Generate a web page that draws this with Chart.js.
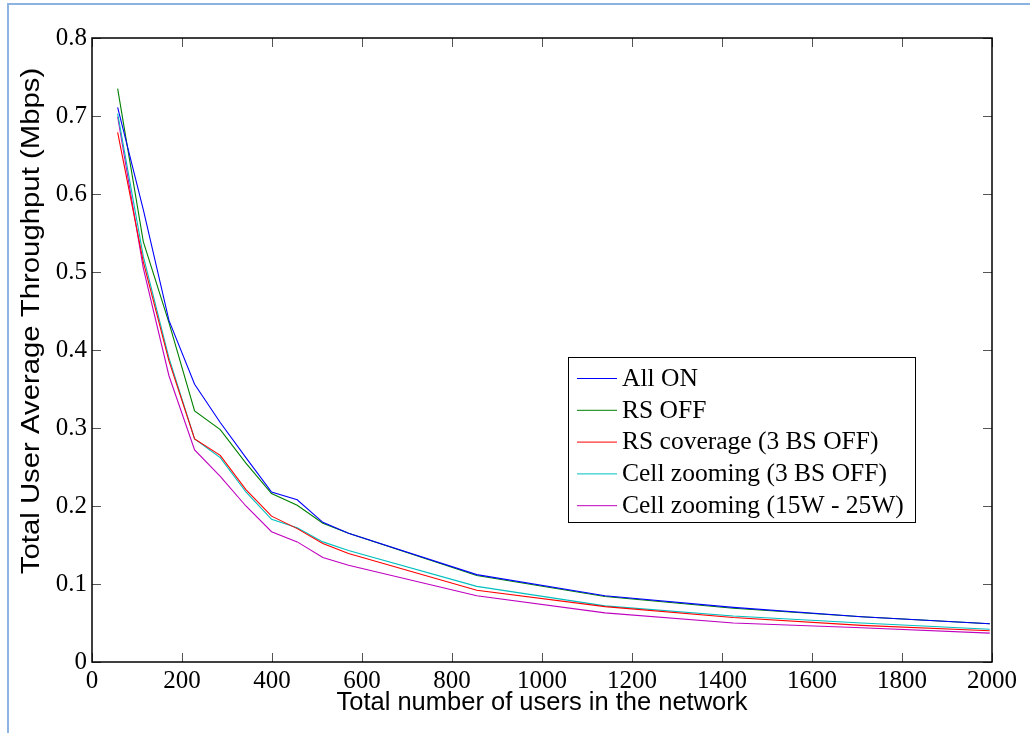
<!DOCTYPE html>
<html>
<head>
<meta charset="utf-8">
<title>Total user average throughput</title>
<script src="https://cdn.jsdelivr.net/npm/chart.js@4.4.1/dist/chart.umd.min.js"></script>
<style>
    html, body { margin: 0; padding: 0; background: #fff; }
    #wrap { width: 1030px; height: 733px; }
</style>
</head>
<body>
<div id="wrap"><canvas id="chart" width="1030" height="733"></canvas></div>
<script>
// Total number of users in the network
const users = [57, 114, 171, 228, 285, 342, 399, 456, 513, 570, 855, 1140, 1425, 1710, 1995];

// Total user average throughput (Mbps)
const allOn       = [0.711, 0.580, 0.438, 0.356, 0.307, 0.262, 0.218, 0.208, 0.179, 0.165, 0.112, 0.085, 0.070, 0.058, 0.049];
const rsOff       = [0.735, 0.539, 0.435, 0.322, 0.298, 0.255, 0.216, 0.201, 0.178, 0.165, 0.111, 0.084, 0.069, 0.058, 0.049];
const rsCoverage  = [0.679, 0.513, 0.386, 0.286, 0.265, 0.221, 0.187, 0.171, 0.152, 0.139, 0.092, 0.071, 0.057, 0.047, 0.040];
const cellZoom3BS = [0.703, 0.520, 0.390, 0.286, 0.262, 0.218, 0.183, 0.172, 0.154, 0.143, 0.097, 0.072, 0.059, 0.050, 0.042];
const cellZoomW   = [0.699, 0.505, 0.367, 0.272, 0.238, 0.200, 0.167, 0.154, 0.134, 0.124, 0.085, 0.063, 0.050, 0.044, 0.037];

const seriesNames = ["All ON", "RS OFF", "RS coverage (3 BS OFF)", "Cell zooming (3 BS OFF)", "Cell zooming (15W - 25W)"];
const seriesValues = [allOn, rsOff, rsCoverage, cellZoom3BS, cellZoomW];
const seriesColors = ["#0000ff", "#008000", "#ff0000", "#00bfbf", "#bf00bf"];

// Tick labels
const xTicks = [0, 200, 400, 600, 800, 1000, 1200, 1400, 1600, 1800, 2000];
const yTicks = [0, 0.1, 0.2, 0.3, 0.4, 0.5, 0.6, 0.7, 0.8];

const xTitle = "Total number of users in the network";
const yTitle = "Total User Average Throughput (Mbps)";

const serif = "'Liberation Serif', 'Times New Roman', serif";
const sans = "'Liberation Sans', Arial, sans-serif";

// Build datasets
const datasets = seriesNames.map((name, i) => ({
    label: name,
    data: users.map((u, j) => ({ x: u, y: seriesValues[i][j] })),
    borderColor: seriesColors[i],
    backgroundColor: seriesColors[i],
    borderWidth: 1.1,
    pointRadius: 0,
    tension: 0,
    fill: false
}));

// Light blue frame around the figure
const framePlugin = {
    id: "frame",
    beforeDraw(chart) {
        const ctx = chart.ctx;
        ctx.save();
        ctx.fillStyle = "#fff";
        ctx.fillRect(0, 0, chart.width, chart.height);
        ctx.strokeStyle = "#8db3e2";
        ctx.lineWidth = 2;
        ctx.strokeRect(8, 4, chart.width + 10, chart.height + 10);
        ctx.restore();
    }
};

// Axes box with inward ticks on all four sides (MATLAB look), plus y title
const boxPlugin = {
    id: "box",
    afterDatasetsDraw(chart) {
        const { ctx, chartArea: a, scales } = chart;
        const len = 9;
        ctx.save();
        ctx.strokeStyle = "#555";
        ctx.lineWidth = 1;
        ctx.beginPath();
        xTicks.forEach(v => {
            const px = Math.round(scales.x.getPixelForValue(v)) + 0.5;
            ctx.moveTo(px, a.bottom); ctx.lineTo(px, a.bottom - len);
            ctx.moveTo(px, a.top); ctx.lineTo(px, a.top + len);
        });
        yTicks.forEach(v => {
            const py = Math.round(scales.y.getPixelForValue(v)) + 0.5;
            ctx.moveTo(a.left, py); ctx.lineTo(a.left + len, py);
            ctx.moveTo(a.right, py); ctx.lineTo(a.right - len, py);
        });
        ctx.stroke();
        ctx.strokeStyle = "#000";
        ctx.lineWidth = 1.5;
        ctx.strokeRect(a.left, a.top, a.right - a.left, a.bottom - a.top);

        // y axis title, sitting a bit above the axis centre as in the figure;
        // the original is stretched along its length
        ctx.translate(32, (a.top + a.bottom) / 2 - 29);
        ctx.rotate(-Math.PI / 2);
        ctx.scale(1.15, 1);
        ctx.font = "25.5px " + sans;
        ctx.fillStyle = "#000";
        ctx.textAlign = "center";
        ctx.textBaseline = "middle";
        ctx.fillText(yTitle, 0, 0);
        ctx.restore();
    }
};

// Legend box inside the plot area
const legendPlugin = {
    id: "insideLegend",
    afterDraw(chart) {
        const { ctx, chartArea: a } = chart;
        const x0 = a.right - 424, y0 = a.top + 319;
        const w = 347, h = 165, row = 31.8;
        ctx.save();
        ctx.fillStyle = "#fff";
        ctx.fillRect(x0, y0, w, h);
        ctx.strokeStyle = "#000";
        ctx.lineWidth = 1;
        ctx.strokeRect(x0 + 0.5, y0 + 0.5, w, h);
        ctx.font = "25.5px " + serif;
        ctx.textBaseline = "middle";
        ctx.textAlign = "left";
        chart.data.datasets.forEach((ds, i) => {
            const y = y0 + 21 + i * row;
            ctx.strokeStyle = ds.borderColor;
            ctx.beginPath();
            ctx.moveTo(x0 + 9, y + 0.5);
            ctx.lineTo(x0 + 49, y + 0.5);
            ctx.stroke();
            ctx.fillStyle = "#000";
            ctx.fillText(ds.label, x0 + 54, y + 1);
        });
        ctx.restore();
    }
};

new Chart(document.getElementById("chart"), {
    type: "line",
    data: { datasets: datasets },
    options: {
        responsive: false,
        animation: false,
        layout: { padding: { left: 0, top: 38, right: 38, bottom: 0 } },
        plugins: {
            legend: { display: false },
            tooltip: { enabled: false }
        },
        scales: {
            x: {
                type: "linear",
                min: 0,
                max: 2000,
                afterBuildTicks: s => { s.ticks = xTicks.map(v => ({ value: v })); },
                afterFit: s => { s.height = 71; },
                grid: { display: false, drawTicks: false },
                border: { display: false },
                ticks: { color: "#000", padding: 4, maxRotation: 0, font: { family: serif, size: 25 },
                         callback: v => String(v) },
                title: {
                    display: true,
                    text: xTitle,
                    color: "#000",
                    font: { family: sans, size: 25.5 },
                    padding: { top: 0, bottom: 15 }
                }
            },
            y: {
                type: "linear",
                min: 0,
                max: 0.8,
                afterBuildTicks: s => { s.ticks = yTicks.map(v => ({ value: v })); },
                afterFit: s => { s.width = 92; },
                grid: { display: false, drawTicks: false },
                border: { display: false },
                ticks: { color: "#000", padding: 5, font: { family: serif, size: 25 },
                         callback: v => String(v) }
            }
        }
    },
    plugins: [framePlugin, boxPlugin, legendPlugin]
});
</script>
</body>
</html>
